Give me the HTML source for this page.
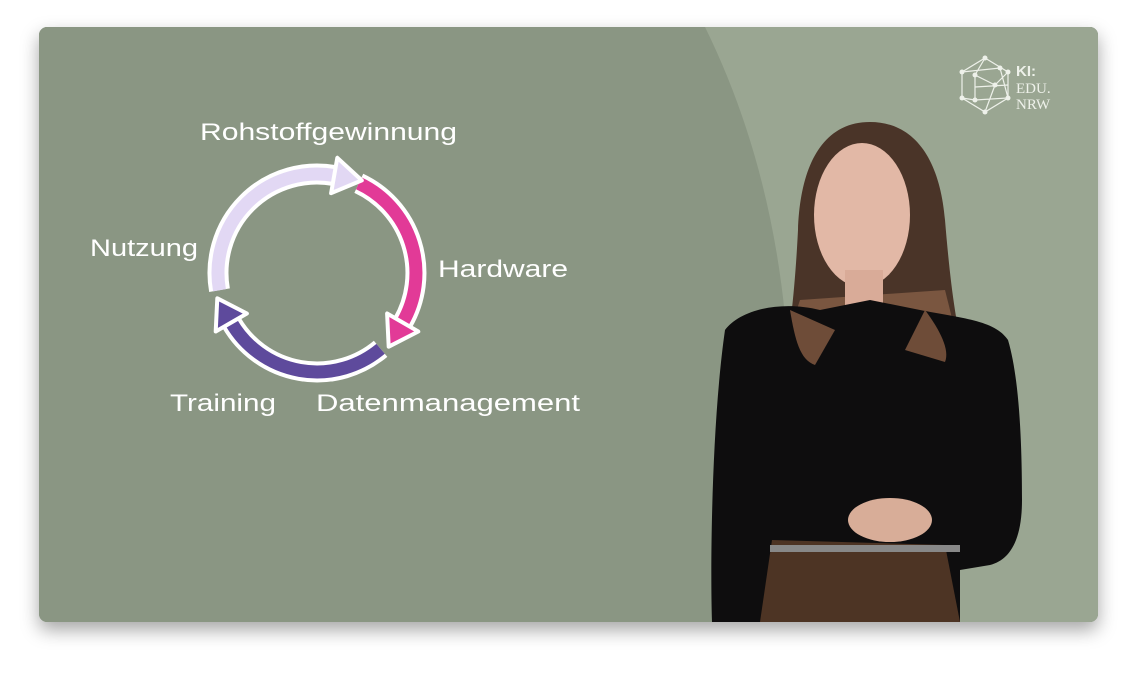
<!DOCTYPE html>
<html><head><meta charset="utf-8"><style>
html,body{margin:0;padding:0;background:#fff;width:1137px;height:675px;overflow:hidden}
</style></head><body>
<svg width="1137" height="675" viewBox="0 0 1137 675" xmlns="http://www.w3.org/2000/svg">
<defs>
<filter id="sh" x="-10%" y="-10%" width="120%" height="130%"><feDropShadow dx="0" dy="8" stdDeviation="9" flood-color="#000" flood-opacity="0.35"/></filter>
<clipPath id="card"><rect x="39" y="27" width="1059" height="595" rx="8"/></clipPath>
</defs>
<rect x="39" y="27" width="1059" height="595" rx="8" fill="#8a9683" filter="url(#sh)"/>
<g clip-path="url(#card)">
<rect x="39" y="27" width="1059" height="595" fill="#8a9683"/>
<path d="M705,27 Q790,200 790,420 L790,622 L1098,622 L1098,27 Z" fill="#9aa692"/>
<path d="M870,122 C820,122 800,170 798,230 C795,290 790,330 785,360 L965,360 C955,320 950,280 945,220 C940,160 915,122 870,122 Z" fill="#4a3428"/>
<path d="M800,300 C790,330 788,350 790,365 L960,365 C958,340 950,310 945,290 Z" fill="#7a5640"/>
<ellipse cx="862" cy="215" rx="48" ry="72" fill="#e2b8a6"/>
<rect x="845" y="270" width="38" height="40" fill="#d9ab98"/>
<path d="M725,330 C740,310 780,300 820,310 L870,300 L920,310 C960,318 995,320 1008,340 C1020,380 1022,450 1022,500 C1022,540 1010,560 990,565 L960,570 L960,622 L760,622 L745,622 L712,622 C710,560 712,420 725,330 Z" fill="#0e0d0e"/>
<path d="M790,310 C795,340 800,360 815,365 L835,330 Z" fill="#6e4c38"/>
<path d="M925,310 C940,330 950,350 945,362 L905,350 Z" fill="#6e4c38"/>
<path d="M772,540 L945,545 L960,622 L760,622 Z" fill="#4d3424"/>
<rect x="770" y="545" width="190" height="7" fill="#888" />
<ellipse cx="890" cy="520" rx="42" ry="22" fill="#d8ad98"/>
</g>
<g stroke="#eef1ea" stroke-width="1.2" fill="none">
<polygon points="985,58 1008,72 1008,98 985,112 962,98 962,72"/>
<path d="M985,58 L975,75 L995,85 L985,112 M962,72 L1000,68 L1008,98 L975,100 L962,98 M975,75 L975,100 M995,85 L1008,72 M975,87 L1008,85"/>
</g>
<g fill="#eef1ea"><circle cx="985" cy="58" r="2.5"/><circle cx="1008" cy="72" r="2.5"/><circle cx="1008" cy="98" r="2.5"/><circle cx="985" cy="112" r="2.5"/><circle cx="962" cy="98" r="2.5"/><circle cx="962" cy="72" r="2.5"/><circle cx="975" cy="75" r="2.5"/><circle cx="995" cy="85" r="2.5"/><circle cx="975" cy="100" r="2.5"/><circle cx="1000" cy="68" r="2.5"/></g>
<text x="1016" y="76" font-family="Liberation Sans, sans-serif" font-weight="bold" font-size="15" fill="#eef1ea">KI:</text>
<text x="1016" y="93" font-family="Liberation Serif, serif" font-size="15" fill="#eef1ea">EDU.</text>
<text x="1016" y="109" font-family="Liberation Serif, serif" font-size="15" fill="#eef1ea">NRW</text>
<g fill="none" stroke-linecap="butt">
<path d="M358.8,183.3 A99,99 0 0 1 402.7,322.5" stroke="#fff" stroke-width="21"/>
<path d="M358.8,183.3 A99,99 0 0 1 402.7,322.5" stroke="#e23a97" stroke-width="13"/>
<polygon points="388.7,346.7 418.3,331.5 387.1,313.5" fill="#e23a97" stroke="#fff" stroke-width="4" stroke-linejoin="round"/>
<path d="M380.6,348.8 A99,99 0 0 1 231.3,322.5" stroke="#fff" stroke-width="21"/>
<path d="M380.6,348.8 A99,99 0 0 1 231.3,322.5" stroke="#5e4a9c" stroke-width="13"/>
<polygon points="217.3,298.3 215.7,331.5 246.9,313.5" fill="#5e4a9c" stroke="#fff" stroke-width="4" stroke-linejoin="round"/>
<path d="M219.5,290.2 A99,99 0 0 1 334.2,175.5" stroke="#fff" stroke-width="21"/>
<path d="M219.5,290.2 A99,99 0 0 1 334.2,175.5" stroke="#e2d8f4" stroke-width="13"/>
<polygon points="361.8,180.4 337.3,157.8 331.1,193.2" fill="#e2d8f4" stroke="#fff" stroke-width="4" stroke-linejoin="round"/>
</g>
<g font-family="Liberation Sans, sans-serif" font-size="24" fill="#fff" lengthAdjust="spacingAndGlyphs">
<text x="200" y="140" textLength="257" lengthAdjust="spacingAndGlyphs">Rohstoffgewinnung</text>
<text x="438" y="277" textLength="130" lengthAdjust="spacingAndGlyphs">Hardware</text>
<text x="90" y="256" textLength="108" lengthAdjust="spacingAndGlyphs">Nutzung</text>
<text x="170" y="411" textLength="106" lengthAdjust="spacingAndGlyphs">Training</text>
<text x="316" y="411" textLength="264" lengthAdjust="spacingAndGlyphs">Datenmanagement</text>
</g>
</svg>
</body></html>
